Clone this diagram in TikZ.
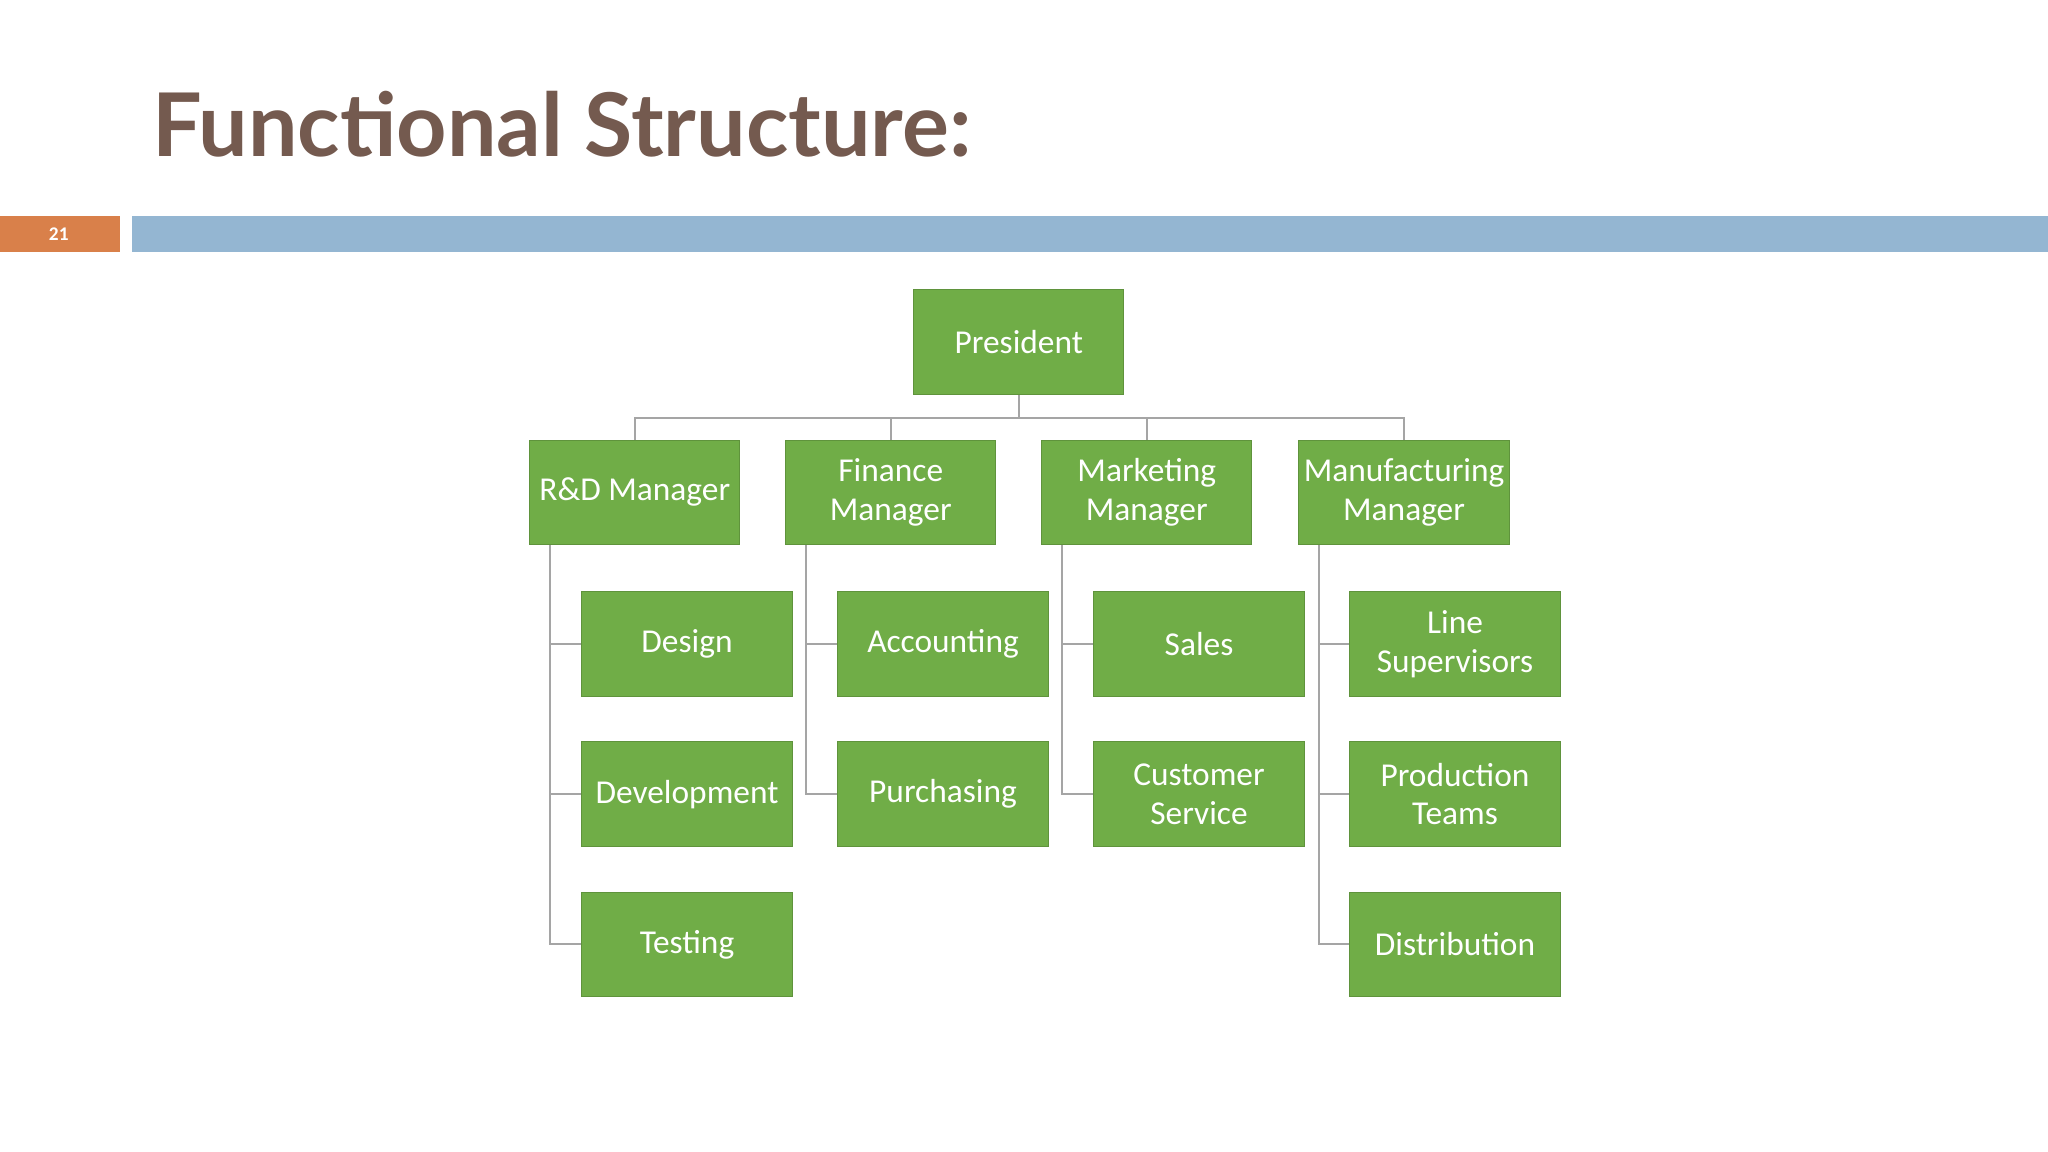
\documentclass[tikz,border=0pt]{standalone}
\usepackage{fontspec}
\setmainfont{Carlito}
\newfontfamily\titlefont{Lato}
\definecolor{boxg}{HTML}{70AD47}
\definecolor{linegray}{HTML}{A5A5A5}
\definecolor{titlebrown}{HTML}{745A4F}
\definecolor{orangebar}{HTML}{D9804A}
\definecolor{bluebar}{HTML}{94B6D2}
\begin{document}
\begin{tikzpicture}[x=0.013061cm,y=-0.013061cm,
  box/.style={fill=boxg,draw=boxg!85!black,line width=0.3pt,minimum width=161*0.013061cm,minimum height=80*0.013061cm,text=white,font=\fontsize{9.5}{11}\selectfont,align=center,inner sep=1pt},
  conn/.style={draw=linegray,line width=0.5pt}]
\useasboundingbox (0,0) rectangle (1568,882);
\node[anchor=base west,text=titlebrown,font=\titlefont\bfseries\fontsize{25}{30}\selectfont,inner sep=0] (title) at (116,120) {Functional Structure:};
\fill[orangebar] (0,165) rectangle (92,193);
\node[text=white,font=\bfseries\fontsize{5.5}{6}\selectfont] (num) at (45,179) {21};
\fill[bluebar] (101,165) rectangle (1568,193);

\node[box] (pres) at (780,262) {President};
\node[box] (m1) at (486,377) {R\&D Manager};
\node[box] (m2) at (682,377) {Finance\\Manager};
\node[box] (m3) at (878,377) {Marketing\\Manager};
\node[box] (m4) at (1075,377) {Manufacturing\\Manager};

\node[box] (c11) at (526,493) {Design};
\node[box] (c12) at (526,608) {Development};
\node[box] (c13) at (526,723) {Testing};
\node[box] (c21) at (722,493) {Accounting};
\node[box] (c22) at (722,608) {Purchasing};
\node[box] (c31) at (918,493) {Sales};
\node[box] (c32) at (918,608) {Customer\\Service};
\node[box] (c41) at (1114,493) {Line\\Supervisors};
\node[box] (c42) at (1114,608) {Production\\Teams};
\node[box] (c43) at (1114,723) {Distribution};

\coordinate (bus) at (780,320);
\draw[conn] (pres.south) -- (bus);
\foreach \m in {m1,m2,m3,m4}{\draw[conn] (bus) -| (\m.north);}
\foreach \m/\c in {m1/c11,m1/c12,m1/c13,m2/c21,m2/c22,m3/c31,m3/c32,m4/c41,m4/c42,m4/c43}{
  \draw[conn] ([xshift=-65*0.013061cm]\m.south) |- (\c.west);}
\end{tikzpicture}
\end{document}
